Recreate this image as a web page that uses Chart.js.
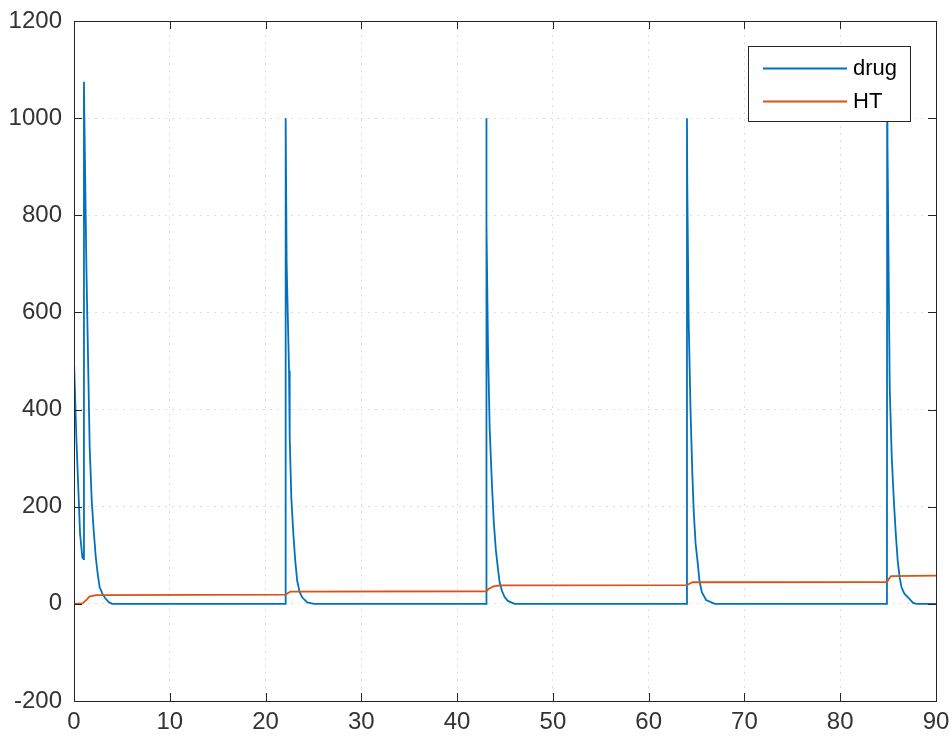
<!DOCTYPE html>
<html>
<head>
<meta charset="utf-8">
<script src="https://cdn.jsdelivr.net/npm/chart.js@4.4.0/dist/chart.umd.min.js"></script>
<style>
  html, body { margin: 0; padding: 0; background: #ffffff; }
  #wrap { width: 952px; height: 740px; }
  canvas { display: block; }
</style>
</head>
<body>
<div id="wrap"><canvas id="c" width="952" height="740"></canvas></div>
<script>
// ---- data ----
const seriesNames = ["drug", "HT"];

const drugT = [
  0, 0.25, 0.46, 0.63, 0.87, 1.0, 1.04, 1.08, 1.3, 1.5, 1.64, 1.85, 2.06, 2.27, 2.47, 2.68, 2.96, 3.24, 3.66, 4.0,
  22.08, 22.1, 22.2, 22.45, 22.52, 22.69, 22.9, 23.1, 23.3, 23.56, 23.84, 24.36, 25.05,
  43.03, 43.05, 43.08, 43.22, 43.4, 43.64, 43.84, 44.05, 44.26, 44.44, 44.68, 44.96, 45.3, 46.0,
  63.98, 64.0, 64.03, 64.17, 64.37, 64.55, 64.7, 64.9, 65.13, 65.3, 65.55, 66.0, 66.9,
  84.88, 84.9, 84.93, 85.07, 85.17, 85.38, 85.6, 85.8, 86.0, 86.2, 86.4, 86.7, 87.2, 87.6, 87.95, 90
];
const drugV = [
  500, 340, 233, 145, 96, 92, 1075, 1005, 686, 470, 320, 213, 150, 97, 62, 34, 21, 12, 3, 0,
  0, 1000, 703, 480, 343, 219, 145, 89, 48, 24, 13, 3, 0,
  0, 1000, 782, 535, 361, 243, 165, 110, 73, 44, 27, 14, 6, 0,
  0, 1000, 865, 590, 398, 274, 192, 124, 83, 48, 24, 8, 0,
  0, 1000, 957, 651, 443, 302, 212, 145, 89, 55, 34, 21, 11, 2, 0, 0
];

const htT = [0, 0.9, 1.3, 1.6, 2.3, 3.0, 22.1, 22.3, 22.6, 23.0, 43.05, 43.3, 43.8, 44.5, 64.0, 64.3, 64.6, 84.9, 85.1, 85.3, 90];
const htV = [0, 1, 8, 15, 18, 18, 19, 22, 25, 25, 26, 31, 36, 38, 38.5, 42, 44.5, 45, 52, 57, 58];

const xTicks = [0, 10, 20, 30, 40, 50, 60, 70, 80, 90];
const yTicks = [-200, 0, 200, 400, 600, 800, 1000, 1200];

// ---- build chart ----
const zip = (xs, ys) => xs.map((x, i) => ({ x: x, y: ys[i] }));
const FONT = "'Liberation Sans', Arial, Helvetica, sans-serif";
const AXIS_COLOR = "#262626";

const boxPlugin = {
  id: "matlabBox",
  afterDatasetsDraw(chart) {
    const { ctx, chartArea: a, scales } = chart;
    ctx.save();
    ctx.strokeStyle = AXIS_COLOR;
    ctx.lineWidth = 1;
    ctx.setLineDash([]);
    ctx.strokeRect(Math.round(a.left) + 0.5, Math.round(a.top) + 0.5,
                   Math.round(a.right - a.left), Math.round(a.bottom - a.top));
    const L = 8;
    ctx.beginPath();
    scales.x.ticks.forEach(t => {
      const px = Math.round(scales.x.getPixelForValue(t.value)) + 0.5;
      ctx.moveTo(px, a.bottom); ctx.lineTo(px, a.bottom - L);
      ctx.moveTo(px, a.top); ctx.lineTo(px, a.top + L);
    });
    scales.y.ticks.forEach(t => {
      const py = Math.round(scales.y.getPixelForValue(t.value)) + 0.5;
      ctx.moveTo(a.left, py); ctx.lineTo(a.left + L, py);
      ctx.moveTo(a.right, py); ctx.lineTo(a.right - L, py);
    });
    ctx.stroke();
    ctx.restore();
  },
  afterDraw(chart) {
    // MATLAB-style legend box in the upper right of the axes
    const { ctx } = chart;
    const x0 = 748, y0 = 46, w = 162, h = 75;
    ctx.save();
    ctx.fillStyle = "#ffffff";
    ctx.fillRect(x0, y0, w, h);
    ctx.strokeStyle = AXIS_COLOR;
    ctx.lineWidth = 1;
    ctx.strokeRect(x0 + 0.5, y0 + 0.5, w, h);
    const rows = [68, 101];
    chart.data.datasets.forEach((ds, i) => {
      const y = rows[i];
      ctx.strokeStyle = ds.borderColor;
      ctx.lineWidth = ds.borderWidth;
      ctx.beginPath();
      ctx.moveTo(763, y + 0.5);
      ctx.lineTo(847, y + 0.5);
      ctx.stroke();
      ctx.fillStyle = "#000000";
      ctx.font = "22px " + FONT;
      ctx.textBaseline = "middle";
      ctx.textAlign = "left";
      ctx.fillText(ds.label, 853, y + 1);
    });
    ctx.restore();
  }
};

const chart = new Chart(document.getElementById("c"), {
  type: "line",
  data: {
    datasets: [
      { label: seriesNames[0], data: zip(drugT, drugV), borderColor: "#0072BD", backgroundColor: "#0072BD",
        borderWidth: 1.8, pointRadius: 0, tension: 0, fill: false, order: 1 },
      { label: seriesNames[1], data: zip(htT, htV), borderColor: "#D95319", backgroundColor: "#D95319",
        borderWidth: 1.8, pointRadius: 0, tension: 0, fill: false, order: 0 }
    ]
  },
  options: {
    responsive: false,
    animation: false,
    devicePixelRatio: 1,
    layout: { padding: { top: 21, right: 16, left: 0, bottom: 0 } },
    plugins: { legend: { display: false }, tooltip: { enabled: false } },
    elements: { line: { borderJoinStyle: "miter", capBezierPoints: false } },
    scales: {
      x: {
        type: "linear", min: 0, max: 90,
        afterBuildTicks: s => { s.ticks = xTicks.map(v => ({ value: v })); },
        afterFit: s => { s.height = 39; s.paddingLeft = 0; s.paddingRight = 0; },
        ticks: { font: { size: 24, family: FONT }, color: "#333333", padding: 7, maxRotation: 0, autoSkip: false,
                 callback: v => String(v) },
        grid: { color: "#dedede", lineWidth: 1, drawTicks: false },
        border: { display: false, dash: [2, 5] }
      },
      y: {
        type: "linear", min: -200, max: 1200,
        afterBuildTicks: s => { s.ticks = yTicks.map(v => ({ value: v })); },
        afterFit: s => { s.width = 74; s.paddingTop = 0; s.paddingBottom = 0; },
        ticks: { font: { size: 24, family: FONT }, color: "#333333", padding: 12, autoSkip: false,
                 callback: v => String(v) },
        grid: { color: "#dedede", lineWidth: 1, drawTicks: false },
        border: { display: false, dash: [2, 5] }
      }
    }
  },
  plugins: [boxPlugin]
});
</script>
</body>
</html>
